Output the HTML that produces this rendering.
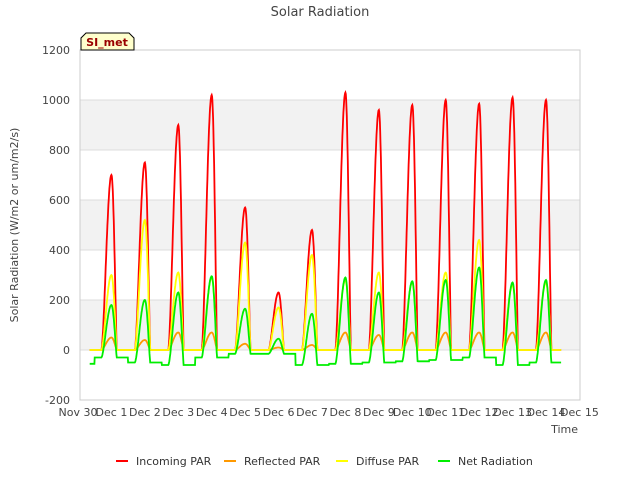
<!DOCTYPE html>
<html><head><meta charset="utf-8"><style>
body{margin:0;background:#fff;font-family:"Liberation Sans","DejaVu Sans",sans-serif}
svg text{font-family:"DejaVu Sans","Liberation Sans",sans-serif}
</style></head><body>
<svg id="c" width="640" height="480"></svg>
<script>
const dayPeaks=[1,2,3,4,5,6,7,8,9,10,11,12,13,14];
const incoming=[700,750,900,1020,570,230,480,1030,960,980,1000,985,1010,1000];
const reflected=[50,40,70,70,25,10,20,70,60,70,70,70,70,70];
const diffuse=[300,520,310,290,430,170,380,280,310,270,310,440,260,270];
const netPeak=[180,200,230,295,165,45,145,290,230,275,280,330,270,280];
const netNight=[-55,-30,-50,-60,-30,-15,-15,-60,-55,-50,-45,-40,-30,-60,-50];
const yTicks=[-200,0,200,400,600,800,1000,1200];
const xTickLabels=["Nov 30","Dec 1","Dec 2","Dec 3","Dec 4","Dec 5","Dec 6","Dec 7","Dec 8","Dec 9","Dec 10","Dec 11","Dec 12","Dec 13","Dec 14","Dec 15"];
const NS="http://www.w3.org/2000/svg",svg=document.getElementById('c');
const L=80,R=580,T=50,B=400;
const xs=d=>78+33.43*d, ys=v=>B-(v+200)/1400*(B-T);
function el(t,a,p){const e=document.createElementNS(NS,t);for(const k in a)e.setAttribute(k,a[k]);(p||svg).appendChild(e);return e;}
[[0,200],[400,600],[800,1000]].forEach((b,i)=>{const r=el('rect',{x:L,y:ys(b[1]),width:R-L,height:ys(b[0])-ys(b[1]),fill:'#f2f2f2'});
});
yTicks.forEach(v=>{el('line',{x1:L,x2:R,y1:ys(v),y2:ys(v),stroke:'#dcdcdc','stroke-width':1});
const t=el('text',{x:L-10,y:ys(v)+4,'text-anchor':'end','font-size':11,fill:'#444'});t.textContent=v;
});
el('rect',{x:L,y:T,width:R-L,height:B-T,fill:'none',stroke:'#ccc'});
xTickLabels.forEach((s,i)=>{const t=el('text',{x:xs(i),y:416,'text-anchor':'middle','font-size':11,fill:'#444'});t.textContent=s;
});
function shape(d,k){const p=dayPeaks[k];const dt=d-p;if(dt<-0.3||dt>0.16)return 0;
return dt<0?Math.pow(Math.sin((dt+0.3)/0.3*Math.PI/2),1.6):Math.pow(Math.cos(dt/0.16*Math.PI/2),1.2);}
function series(arr,base,color,name,w){let pts=[];
for(let d=0.35;d<=14.45;d+=0.01){let k=Math.round(d);k=Math.max(1,Math.min(14,k));
let b=base?base[Math.max(0,Math.min(base.length-1,Math.floor(d+0.5)))]:0;
let s=shape(d,k-1);let v=b+(arr[k-1]-b)*Math.max(0,s);pts.push(xs(d).toFixed(1)+','+ys(v).toFixed(1));}
const p=el('polyline',{points:pts.join(' '),fill:'none',stroke:color,'stroke-width':w||1.8});
}
series(incoming,null,'#ff0000','incoming-par-line');
series(reflected,null,'#ff9900','reflected-par-line');
series(diffuse,null,'#ffff00','diffuse-par-line');
series(netPeak,netNight,'#00ee00','net-radiation-line');
let t=el('text',{x:320,y:16,'text-anchor':'middle','font-size':13,fill:'#444'});t.textContent='Solar Radiation';

t=el('text',{x:18,y:225,'text-anchor':'middle','font-size':11,fill:'#444',transform:'rotate(-90 18 225)'});t.textContent='Solar Radiation (W/m2 or um/m2/s)';

t=el('text',{x:578,y:433,'text-anchor':'end','font-size':11,fill:'#444'});t.textContent='Time';

const g=el('g',{});
el('path',{d:'M81,50 L81,38 L86,33 L129,33 L134,38 L134,50 Z',fill:'#ffffcc',stroke:'#000'},g);
t=el('text',{x:107,y:46,'text-anchor':'middle','font-size':11,'font-weight':'bold',fill:'#990000'},g);t.textContent='SI_met';
const leg=[['Incoming PAR','#ff0000',116],['Reflected PAR','#ff9900',224],['Diffuse PAR','#ffff00',336],['Net Radiation','#00ee00',438]];
leg.forEach(l=>{const g=el('g',{});
el('line',{x1:l[2],x2:l[2]+12,y1:461,y2:461,stroke:l[1],'stroke-width':2},g);
const tt=el('text',{x:l[2]+20,y:465,'font-size':11,fill:'#333'},g);tt.textContent=l[0];});
</script>
</body></html>
